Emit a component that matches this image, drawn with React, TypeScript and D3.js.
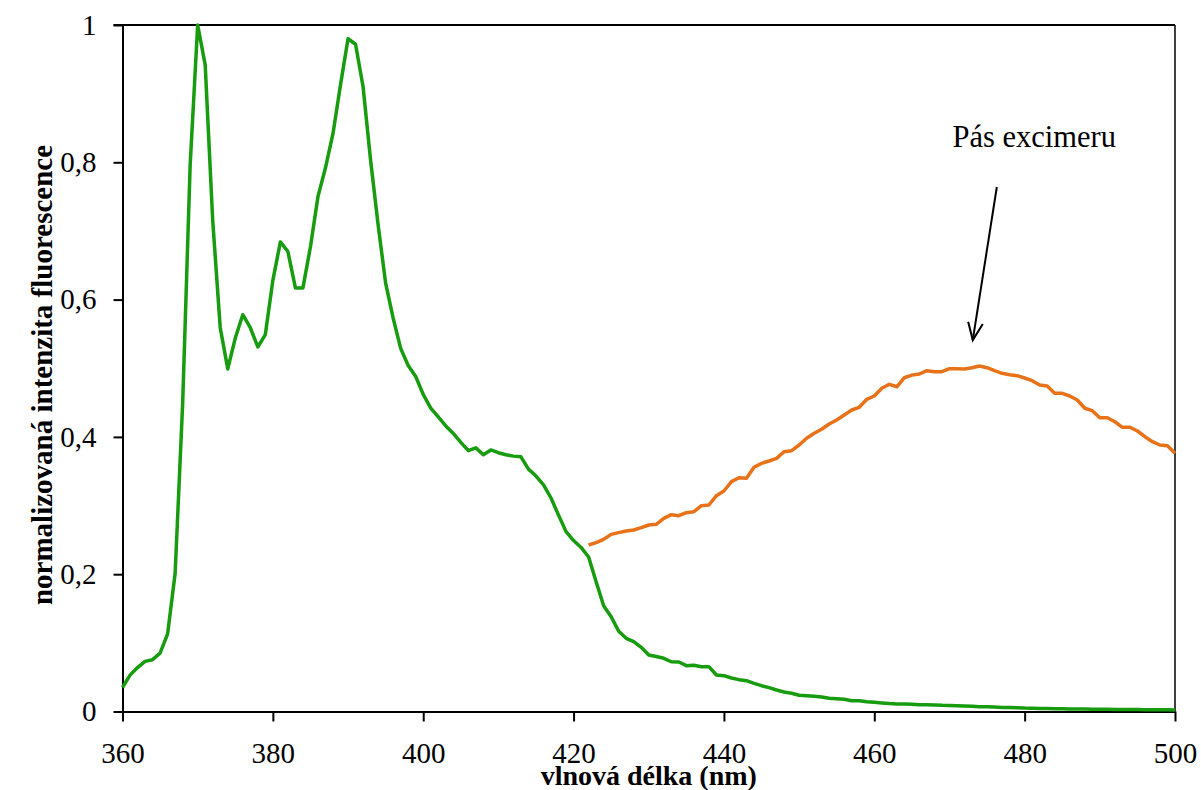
import React, { useRef, useEffect } from "react";
import * as d3 from "d3";

// wavelength grid (nm), 1 nm step
const monomerStart = 360;
const excimerStart = 422;

// normalised fluorescence, monomer band (green), 360–500 nm
const monomer = [
  0.035, 0.053, 0.064, 0.073, 0.0755, 0.085, 0.113, 0.201, 0.448, 0.796,
  1.0, 0.942, 0.715, 0.559, 0.499, 0.544, 0.578, 0.559, 0.531, 0.549,
  0.628, 0.684, 0.67, 0.617, 0.617, 0.677, 0.75, 0.792, 0.842, 0.913,
  0.98, 0.972, 0.91, 0.803, 0.709, 0.624, 0.573, 0.529, 0.504, 0.488,
  0.462, 0.442, 0.429, 0.416, 0.405, 0.392, 0.38, 0.384, 0.374, 0.381,
  0.377, 0.374, 0.372, 0.371, 0.353, 0.343, 0.33, 0.311, 0.286, 0.262,
  0.249, 0.239, 0.225, 0.189, 0.154, 0.138, 0.117, 0.1066, 0.1017, 0.0935,
  0.0823, 0.08, 0.0775, 0.0725, 0.0721, 0.0668, 0.0673, 0.0653, 0.0653, 0.0532,
  0.0522, 0.0488, 0.0464, 0.0449, 0.041, 0.0376, 0.0347, 0.0313, 0.0284, 0.0265,
  0.0236, 0.023, 0.0221, 0.0211, 0.0192, 0.0187, 0.0178, 0.0157, 0.0157, 0.0143,
  0.0134, 0.0125, 0.0115, 0.011, 0.0108, 0.0105, 0.01, 0.0098, 0.0095, 0.009,
  0.0088, 0.0083, 0.008, 0.0075, 0.007, 0.0068, 0.0065, 0.006, 0.0058, 0.0055,
  0.005, 0.0048, 0.0045, 0.0043, 0.004, 0.004, 0.0038, 0.0036, 0.0035, 0.0034,
  0.0033, 0.0032, 0.003, 0.003, 0.0029, 0.0028, 0.0027, 0.0026, 0.0025, 0.0024,
  0.0023,
];

// excimer band (orange), 422–500 nm
const excimer = [
  0.2425, 0.2459, 0.2508, 0.258, 0.2605, 0.263, 0.2644, 0.2678, 0.2717, 0.2727,
  0.2814, 0.2867, 0.2852, 0.2896, 0.291, 0.2998, 0.3008, 0.3144, 0.3212, 0.3348,
  0.3406, 0.3397, 0.3557, 0.3615, 0.3649, 0.3688, 0.3784, 0.3799, 0.3882, 0.398,
  0.4052, 0.4111, 0.4188, 0.4246, 0.4319, 0.4392, 0.4431, 0.4548, 0.4596, 0.4708,
  0.4766, 0.473, 0.4862, 0.49, 0.4916, 0.4964, 0.495, 0.495, 0.4994, 0.4994,
  0.4989, 0.5008, 0.5033, 0.5008, 0.4964, 0.4926, 0.4906, 0.4892, 0.4858, 0.4819,
  0.4756, 0.4741, 0.4635, 0.4635, 0.4596, 0.4538, 0.4417, 0.4382, 0.428, 0.428,
  0.4221, 0.414, 0.414, 0.4086, 0.4003, 0.393, 0.3882, 0.3872, 0.3761,
];

const xTicks = [360, 380, 400, 420, 440, 460, 480, 500];
const yTicks = [0, 0.2, 0.4, 0.6, 0.8, 1];

const xTitle = "vlnová délka (nm)";
const yTitle = "normalizovaná intenzita fluorescence";
const note = "Pás excimeru";

const App = () => {
  const svgRef = useRef<SVGSVGElement>(null);

  useEffect(() => {
    const W = 1201;
    const H = 790;
    const margin = { top: 25, right: 26, bottom: 78.5, left: 122.5 };
    const width = W - margin.left - margin.right;
    const height = H - margin.top - margin.bottom;
    const font = "'Liberation Serif', 'Times New Roman', serif";

    const root = d3.select(svgRef.current).attr("width", W).attr("height", H);
    root.selectAll("*").remove();

    const svg = root
      .append("g")
      .attr("transform", `translate(${margin.left}, ${margin.top})`);

    const x = d3.scaleLinear().domain([360, 500]).range([0, width]);
    const y = d3.scaleLinear().domain([0, 1]).range([height, 0]);

    // frame: top and right
    svg.append("line")
      .attr("x1", -9).attr("x2", width).attr("y1", 0).attr("y2", 0)
      .attr("stroke", "#000").attr("stroke-width", 2);
    svg.append("line")
      .attr("x1", width).attr("x2", width).attr("y1", 0).attr("y2", height)
      .attr("stroke", "#000").attr("stroke-width", 1.5);

    const xAxis = d3.axisBottom(x).tickValues(xTicks).tickSize(10).tickPadding(21).tickSizeOuter(0);
    const gx = svg.append("g")
      .attr("transform", `translate(0, ${height})`)
      .call(xAxis);
    gx.select(".domain").attr("stroke-width", 2);
    gx.selectAll(".tick line").attr("stroke-width", 2);
    gx.selectAll("text")
      .attr("fill", "#000")
      .style("font-family", font)
      .style("font-size", "29px");

    const yAxis = d3.axisLeft(y)
      .tickValues(yTicks)
      .tickSize(9)
      .tickPadding(17)
      .tickSizeOuter(0)
      .tickFormat((d) => String(d).replace(".", ","));
    const gy = svg.append("g").call(yAxis);
    gy.select(".domain").attr("stroke-width", 2);
    gy.selectAll(".tick line").attr("stroke-width", 2);
    gy.selectAll("text")
      .attr("fill", "#000")
      .style("font-family", font)
      .style("font-size", "29px");

    svg.append("path")
      .datum(monomer)
      .attr("fill", "none")
      .attr("stroke", "#169c0e")
      .attr("stroke-width", 3.5)
      .attr("stroke-linejoin", "round")
      .attr("d", d3.line<number>().x((d, i) => x(monomerStart + i)).y((d) => y(d)));

    svg.append("path")
      .datum(excimer)
      .attr("fill", "none")
      .attr("stroke", "#e8721a")
      .attr("stroke-width", 3.5)
      .attr("stroke-linejoin", "round")
      .attr("d", d3.line<number>().x((d, i) => x(excimerStart + i)).y((d) => y(d)));

    // annotation
    svg.append("text")
      .attr("x", x(470.4))
      .attr("y", y(0.823))
      .style("font-family", font)
      .style("font-size", "30.5px")
      .text(note);

    const tail: [number, number] = [x(476.3), y(0.764)];
    const tip: [number, number] = [x(473.1), y(0.541)];
    svg.append("line")
      .attr("x1", tail[0]).attr("y1", tail[1])
      .attr("x2", tip[0]).attr("y2", tip[1])
      .attr("stroke", "#000").attr("stroke-width", 2);
    const ang = Math.atan2(tip[1] - tail[1], tip[0] - tail[0]);
    const hl = 19;
    const spread = 0.4;
    const head = [ang + Math.PI - spread, ang + Math.PI + spread].map(
      (a) => [tip[0] + hl * Math.cos(a), tip[1] + hl * Math.sin(a)] as [number, number]
    );
    svg.append("path")
      .attr("d", d3.line()([head[0], tip, head[1]]))
      .attr("fill", "none")
      .attr("stroke", "#000")
      .attr("stroke-width", 2);

    // axis titles
    root.append("text")
      .attr("x", margin.left + width / 2)
      .attr("y", 785)
      .attr("text-anchor", "middle")
      .style("font-family", font)
      .style("font-weight", "bold")
      .style("font-size", "28px")
      .text(xTitle);

    root.append("text")
      .attr("transform", `translate(52, 375) rotate(-90)`)
      .attr("text-anchor", "middle")
      .style("font-family", font)
      .style("font-weight", "bold")
      .style("font-size", "29px")
      .text(yTitle);
  }, []);

  return (
    <div>
      <svg
        ref={svgRef}
        style={{ position: "absolute", left: 0, top: 0, display: "block", background: "#fff" }}
      ></svg>
    </div>
  );
};

export default App;
